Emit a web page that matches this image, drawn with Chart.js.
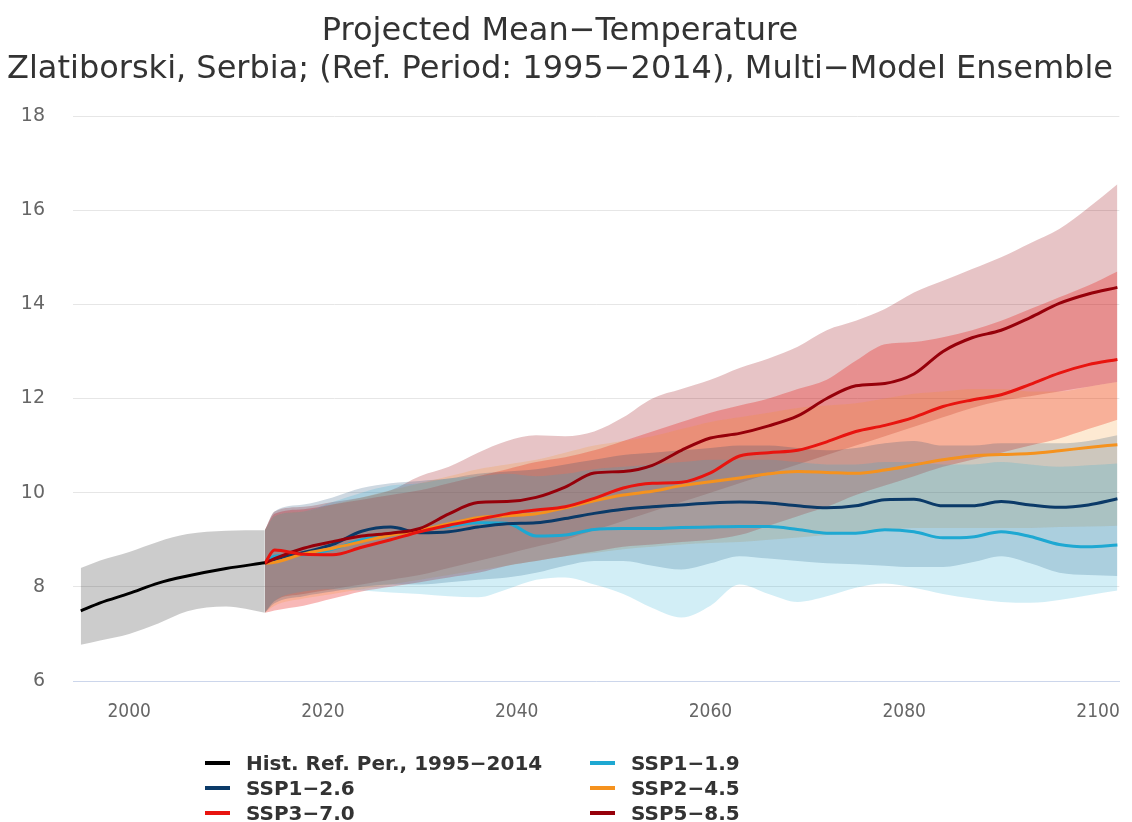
<!DOCTYPE html>
<html lang="en">
<head>
    <meta charset="UTF-8">
    <script src="https://cdn.jsdelivr.net/npm/chart.js"></script>
    <title>Projected Mean-Temperature</title>
    <style>
        body {
            margin: 0;
            background: #ffffff;
        }

        #wrap {
            position: relative;
            width: 1132px;
            height: 822px;
        }

        #legend {
            position: absolute;
            left: 205px;
            top: 750px;
            display: grid;
            grid-template-columns: 385px auto;
            font-family: "DejaVu Sans", sans-serif;
            font-weight: bold;
            font-size: 20px;
            color: #333333;
        }

        .item {
            display: flex;
            align-items: center;
            height: 25px;
        }

        .swatch {
            width: 25px;
            height: 4px;
            margin-right: 16px;
        }
    </style>
</head>
<body>

    <div id="wrap">
        <canvas id="chart" width="1132" height="822"></canvas>
        <div id="legend"></div>
    </div>

    <script>
        // historical reference period
        const histYears = [1995, 1997, 2000, 2003, 2006, 2010, 2014];
        const histMean  = [7.49, 7.66, 7.86, 8.08, 8.23, 8.39, 8.51];
        const histUpper = [8.40, 8.56, 8.74, 8.96, 9.12, 9.19, 9.20];
        const histLower = [6.77, 6.86, 7.00, 7.22, 7.48, 7.58, 7.45];

        // projection years
        const projYears = [2014, 2015, 2018, 2021, 2024, 2027, 2030, 2033, 2036, 2039, 2042, 2045, 2048, 2051, 2054, 2057,
                           2060, 2063, 2066, 2069, 2072, 2075, 2078, 2081, 2084, 2087, 2090, 2093, 2096, 2099, 2102];

        const ssp119Mean  = [8.5, 8.65, 8.68, 8.8, 9.0, 9.13, 9.2, 9.28, 9.36, 9.35, 9.08, 9.1, 9.22, 9.24, 9.24, 9.26,
                             9.27, 9.28, 9.28, 9.22, 9.14, 9.14, 9.21, 9.17, 9.04, 9.06, 9.17, 9.07, 8.9, 8.85, 8.89];
        const ssp119Upper = [9.2, 9.5, 9.6, 9.8, 10.0, 10.15, 10.2, 10.3, 10.35, 10.4, 10.35, 10.4, 10.5, 10.55, 10.6, 10.65,
                             10.7, 10.7, 10.7, 10.65, 10.6, 10.6, 10.65, 10.65, 10.6, 10.6, 10.65, 10.6, 10.55, 10.58, 10.62];
        const ssp119Lower = [7.45, 7.7, 7.9, 7.95, 7.92, 7.88, 7.85, 7.8, 7.78, 7.95, 8.15, 8.2, 8.05, 7.85, 7.55, 7.35,
                             7.6, 8.05, 7.85, 7.68, 7.8, 7.98, 8.07, 7.98, 7.85, 7.75, 7.68, 7.66, 7.72, 7.82, 7.92];

        const ssp126Mean  = [8.5, 8.58, 8.73, 8.9, 9.18, 9.27, 9.15, 9.17, 9.27, 9.34, 9.36, 9.45, 9.56, 9.65, 9.7, 9.74,
                             9.78, 9.8, 9.78, 9.72, 9.68, 9.72, 9.85, 9.86, 9.72, 9.72, 9.81, 9.74, 9.69, 9.74, 9.87];
        const ssp126Upper = [9.2, 9.6, 9.75, 9.9, 10.1, 10.2, 10.25, 10.3, 10.4, 10.45, 10.5, 10.6, 10.7, 10.8, 10.85, 10.9,
                             10.95, 11.0, 11.0, 10.95, 10.9, 10.95, 11.05, 11.1, 11.0, 11.0, 11.05, 11.05, 11.05, 11.1, 11.22];
        const ssp126Lower = [7.45, 7.65, 7.8, 7.9, 8.0, 8.05, 8.05, 8.1, 8.15, 8.2, 8.3, 8.45, 8.55, 8.55, 8.45, 8.37,
                             8.5, 8.65, 8.6, 8.55, 8.5, 8.48, 8.45, 8.42, 8.42, 8.52, 8.65, 8.5, 8.3, 8.25, 8.23];

        const ssp245Mean  = [8.5, 8.52, 8.7, 8.82, 8.96, 9.1, 9.2, 9.34, 9.47, 9.51, 9.55, 9.68, 9.83, 9.95, 10.03, 10.15,
                             10.23, 10.31, 10.4, 10.45, 10.43, 10.41, 10.48, 10.59, 10.7, 10.78, 10.81, 10.83, 10.89, 10.96, 11.02];
        const ssp245Upper = [9.2, 9.5, 9.6, 9.75, 9.9, 10.05, 10.2, 10.35, 10.5, 10.6, 10.7, 10.85, 11.0, 11.1, 11.2, 11.35,
                             11.5, 11.6, 11.7, 11.8, 11.85, 11.9, 12.0, 12.1, 12.15, 12.2, 12.2, 12.15, 12.15, 12.25, 12.35];
        const ssp245Lower = [7.45, 7.6, 7.75, 7.85, 7.95, 8.05, 8.15, 8.25, 8.35, 8.45, 8.55, 8.65, 8.72, 8.8, 8.85, 8.9,
                             8.93, 8.95, 9.0, 9.05, 9.1, 9.15, 9.2, 9.25, 9.25, 9.25, 9.25, 9.25, 9.27, 9.28, 9.3];

        const ssp370Mean  = [8.5, 8.78, 8.69, 8.68, 8.84, 9.0, 9.17, 9.31, 9.43, 9.55, 9.63, 9.7, 9.88, 10.1, 10.2, 10.22,
                             10.42, 10.78, 10.85, 10.9, 11.08, 11.3, 11.43, 11.6, 11.83, 11.97, 12.08, 12.3, 12.54, 12.72, 12.83];
        const ssp370Upper = [9.2, 9.55, 9.65, 9.75, 9.85, 9.95, 10.05, 10.2, 10.35, 10.5, 10.65, 10.75, 10.9, 11.1, 11.3, 11.5,
                             11.7, 11.85, 12.0, 12.2, 12.4, 12.8, 13.15, 13.2, 13.3, 13.45, 13.65, 13.9, 14.15, 14.4, 14.7];
        const ssp370Lower = [7.45, 7.5, 7.6, 7.75, 7.9, 8.0, 8.1, 8.2, 8.3, 8.45, 8.55, 8.65, 8.75, 8.85, 8.9, 8.95,
                             9.0, 9.1, 9.3, 9.5, 9.7, 9.95, 10.15, 10.35, 10.55, 10.7, 10.85, 11.0, 11.15, 11.35, 11.55];

        const ssp585Mean  = [8.5, 8.6, 8.82, 8.96, 9.08, 9.14, 9.24, 9.55, 9.79, 9.81, 9.9, 10.12, 10.42, 10.45, 10.58, 10.9,
                             11.16, 11.26, 11.42, 11.63, 12.0, 12.27, 12.32, 12.52, 13.0, 13.29, 13.45, 13.72, 14.02, 14.22, 14.36];
        const ssp585Upper = [9.2, 9.6, 9.7, 9.8, 9.9, 10.05, 10.35, 10.55, 10.85, 11.1, 11.22, 11.2, 11.3, 11.6, 12.0, 12.2,
                             12.4, 12.65, 12.85, 13.1, 13.45, 13.65, 13.9, 14.25, 14.5, 14.75, 15.0, 15.3, 15.6, 16.05, 16.55];
        const ssp585Lower = [7.45, 7.7, 7.85, 7.95, 8.05, 8.15, 8.25, 8.4, 8.55, 8.7, 8.85, 9.0, 9.2, 9.4, 9.6, 9.8,
                             10.0, 10.2, 10.4, 10.6, 10.8, 11.0, 11.2, 11.4, 11.6, 11.8, 11.95, 12.05, 12.15, 12.25, 12.35];

        const xTicks = [2000, 2020, 2040, 2060, 2080, 2100];
        const yTicks = [6, 8, 10, 12, 14, 16, 18];

        const titleLines = ["Projected Mean\u2212Temperature",
                            "Zlatiborski, Serbia; (Ref. Period: 1995\u22122014), Multi\u2212Model Ensemble"];

        // legend order = row by row, two columns
        const series = [
            { name: "Hist. Ref. Per., 1995\u22122014", line: "#000000", band: "rgba(0,0,0,0.2)",
              years: histYears, mean: histMean, upper: histUpper, lower: histLower, order: 0 },
            { name: "SSP1\u22121.9", line: "#1ea8d2", band: "rgba(30,168,210,0.2)",
              years: projYears, mean: ssp119Mean, upper: ssp119Upper, lower: ssp119Lower, order: 4 },
            { name: "SSP1\u22122.6", line: "#0b3a68", band: "rgba(11,58,104,0.2)",
              years: projYears, mean: ssp126Mean, upper: ssp126Upper, lower: ssp126Lower, order: 3 },
            { name: "SSP2\u22124.5", line: "#f5921e", band: "rgba(245,146,30,0.2)",
              years: projYears, mean: ssp245Mean, upper: ssp245Upper, lower: ssp245Lower, order: 2 },
            { name: "SSP3\u22127.0", line: "#e8140f", band: "rgba(232,20,15,0.3)",
              years: projYears, mean: ssp370Mean, upper: ssp370Upper, lower: ssp370Lower, order: 0 },
            { name: "SSP5\u22128.5", line: "#96000a", band: "rgba(150,0,10,0.23)",
              years: projYears, mean: ssp585Mean, upper: ssp585Upper, lower: ssp585Lower, order: 1 }
        ];

        function pts(xs, ys) {
            return xs.map((x, i) => ({ x: x, y: ys[i] }));
        }

        const datasets = [];

        // mean lines (drawn on top)
        series.forEach(s => {
            datasets.push({
                label: s.name,
                data: pts(s.years, s.mean),
                borderColor: s.line,
                borderWidth: 3,
                pointRadius: 0,
                fill: false,
                cubicInterpolationMode: "monotone",
                order: s.order
            });
        });

        // ranges: upper edge, then lower edge filled up to it
        series.forEach(s => {
            datasets.push({
                label: s.name + " max",
                data: pts(s.years, s.upper),
                borderWidth: 0,
                pointRadius: 0,
                fill: false,
                cubicInterpolationMode: "monotone",
                order: 10
            });
            datasets.push({
                label: s.name + " min",
                data: pts(s.years, s.lower),
                borderWidth: 0,
                pointRadius: 0,
                backgroundColor: s.band,
                fill: datasets.length - 1,
                cubicInterpolationMode: "monotone",
                order: 10
            });
        });

        const ctx = document.getElementById("chart").getContext("2d");
        new Chart(ctx, {
            type: "line",
            data: { datasets: datasets },
            options: {
                responsive: false,
                animation: false,
                events: [],
                layout: { padding: { left: 0, right: 12, top: 0, bottom: 0 } },
                plugins: {
                    legend: { display: false },
                    tooltip: { enabled: false },
                    title: {
                        display: true,
                        text: titleLines,
                        color: "#333333",
                        font: { family: "DejaVu Sans", size: 32, weight: "normal", lineHeight: 1.18 },
                        padding: { top: 13, bottom: 27.5 }
                    }
                },
                scales: {
                    x: {
                        type: "linear",
                        min: 1994.2,
                        max: 2102.2,
                        afterBuildTicks: scale => { scale.ticks = xTicks.map(v => ({ value: v })); },
                        afterFit: scale => { scale.height = 141; },
                        grid: { display: false },
                        border: { display: true, color: "#ccd6eb", width: 1 },
                        ticks: {
                            color: "#666666",
                            padding: 12,
                            maxRotation: 0,
                            font: { family: "'DejaVu Sans Condensed', 'DejaVu Sans'", size: 19 },
                            callback: v => String(v)
                        }
                    },
                    y: {
                        min: 6,
                        max: 18,
                        afterBuildTicks: scale => { scale.ticks = yTicks.map(v => ({ value: v })); },
                        afterFit: scale => { scale.width = 73; },
                        grid: { color: "#e6e6e6", drawTicks: false },
                        border: { display: false },
                        ticks: {
                            color: "#666666",
                            padding: 28,
                            font: { family: "DejaVu Sans", size: 19 }
                        }
                    }
                }
            }
        });

        // legend below the plot
        const legend = document.getElementById("legend");
        series.forEach(s => {
            const item = document.createElement("div");
            item.className = "item";
            item.innerHTML = '<span class="swatch" style="background:' + s.line + '"></span>' + s.name;
            legend.appendChild(item);
        });
    </script>

</body>
</html>
